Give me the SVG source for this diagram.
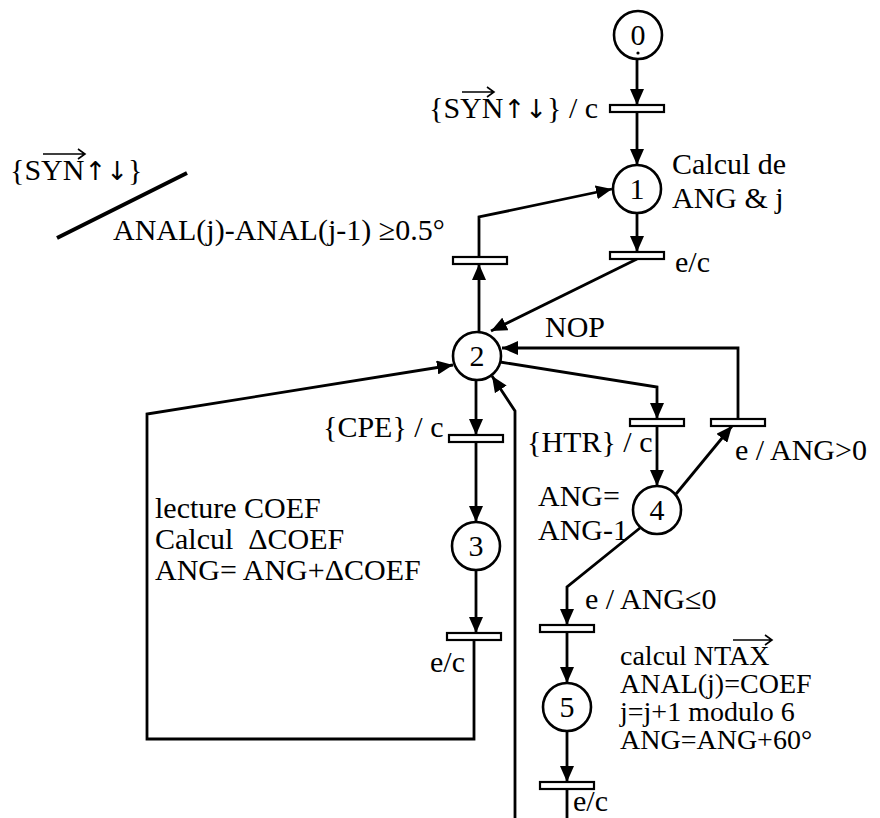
<svg xmlns="http://www.w3.org/2000/svg" width="880" height="818" viewBox="0 0 880 818">
<defs>
<marker id="ah" markerUnits="userSpaceOnUse" markerWidth="16" markerHeight="14" refX="16" refY="7" orient="auto">
<path d="M0,0 L16,7 L0,14 z" fill="#000"/>
</marker>
<style>
.place circle{fill:#fff;stroke:#000;stroke-width:2.6}
.bar{fill:#fff;stroke:#000;stroke-width:2.2}
.t{font-family:"Liberation Serif","Times New Roman",serif;font-size:30px;fill:#000}
.s{font-size:28px}
.ar{font-family:"DejaVu Sans",sans-serif;font-size:26px}
.num{text-anchor:middle}
.arc{fill:none;stroke:#000;stroke-width:2.8}
.arr{marker-end:url(#ah)}
.vec{fill:none;stroke:#000;stroke-width:1.6}
</style>
</defs>
<rect width="880" height="818" fill="#fff"/>

<g id="connectors">
<path class="arc arr" d="M637,59 V105"/>
<path class="arc arr" d="M637,112 V165"/>
<path class="arc arr" d="M637,213 V252"/>
<path class="arc arr" d="M637,259 L491,331"/>
<path class="arc arr" d="M479,332 V264"/>
<path class="arc arr" d="M479,257 V217 L612,189"/>
<path class="arc arr" d="M738,419 V348 L502,348"/>
<path class="arc arr" d="M500,362 L657,387 V419"/>
<path class="arc arr" d="M657,426 V486"/>
<path class="arc arr" d="M676,494 L732,426"/>
<path class="arc arr" d="M640,528 L567,587 V625"/>
<path class="arc arr" d="M567,632 V683"/>
<path class="arc arr" d="M567,731 V782"/>
<path class="arc" d="M567,789 V818"/>
<path class="arc arr" d="M476,380 V435"/>
<path class="arc arr" d="M476,442 V522"/>
<path class="arc arr" d="M476,570 V633"/>
<path class="arc arr" d="M474,640 V739 H147 V414 L453,365"/>
<path class="arc arr" d="M515,818 V411 L492,376"/>
</g>

<g id="transitions">
<rect id="t0" class="bar" x="610" y="105" width="54" height="7"/>
<rect id="t1" class="bar" x="610" y="252" width="54" height="7"/>
<rect id="t-anal" class="bar" x="453" y="257" width="54" height="7"/>
<rect id="t-cpe" class="bar" x="449" y="435" width="54" height="7"/>
<rect id="t-htr" class="bar" x="630" y="419" width="54" height="7"/>
<rect id="t-nop" class="bar" x="711" y="419" width="54" height="7"/>
<rect id="t3" class="bar" x="447" y="633" width="54" height="7"/>
<rect id="t-le0" class="bar" x="540" y="625" width="54" height="7"/>
<rect id="t5" class="bar" x="540" y="782" width="54" height="7"/>
</g>

<g id="p0" class="place"><circle cx="638" cy="35" r="24"/><text class="t num" x="638" y="45">0</text><circle cx="638" cy="53" r="1.6" style="fill:#000;stroke:none"/></g>
<g id="p1" class="place"><circle cx="637" cy="189" r="24"/><text class="t num" x="637" y="199">1</text></g>
<g id="p2" class="place"><circle cx="477" cy="356" r="24"/><text class="t num" x="477" y="366">2</text></g>
<g id="p3" class="place"><circle cx="476" cy="546" r="24"/><text class="t num" x="476" y="556">3</text></g>
<g id="p4" class="place"><circle cx="657" cy="510" r="24"/><text class="t num" x="657" y="520">4</text></g>
<g id="p5" class="place"><circle cx="567" cy="707" r="24"/><text class="t num" x="567" y="717">5</text></g>

<g id="labels">
<text class="t" x="429" y="118">{SYN<tspan class="ar">↑↓</tspan>} / c</text>
<path class="vec" d="M462,92 H494 M487,87 L494,92 L487,97"/>
<text class="t" x="10" y="180">{SYN<tspan class="ar">↑↓</tspan>}</text>
<path class="vec" d="M43,154 H85 M78,149 L85,154 L78,159"/>
<path d="M57,238 L187,173" stroke="#000" stroke-width="4"/>
<text class="t" x="113" y="240">ANAL(j)-ANAL(j-1) ≥0.5°</text>
<text class="t" x="672" y="174">Calcul de</text>
<text class="t" x="672" y="208">ANG &amp; j</text>
<text class="t" x="675" y="272">e/c</text>
<text class="t" x="545" y="337">NOP</text>
<text class="t" x="323" y="437">{CPE} / c</text>
<text class="t" x="527" y="452">{HTR} / c</text>
<text class="t" x="735" y="460">e / ANG&gt;0</text>
<text class="t" x="538" y="506">ANG=</text>
<text class="t" x="538" y="540">ANG-1</text>
<text class="t" x="155" y="518">lecture COEF</text>
<text class="t" x="155" y="549" xml:space="preserve">Calcul  ΔCOEF</text>
<text class="t" x="155" y="580">ANG= ANG+ΔCOEF</text>
<text class="t" x="430" y="672">e/c</text>
<text class="t" x="585" y="609">e / ANG≤0</text>
<text class="t s" x="620" y="665">calcul NTAX</text>
<path class="vec" d="M733,640 H772 M765,635 L772,640 L765,645"/>
<text class="t s" x="620" y="693">ANAL(j)=COEF</text>
<text class="t s" x="620" y="721">j=j+1 modulo 6</text>
<text class="t s" x="620" y="749">ANG=ANG+60°</text>
<text class="t" x="573" y="811">e/c</text>
</g>
</svg>
